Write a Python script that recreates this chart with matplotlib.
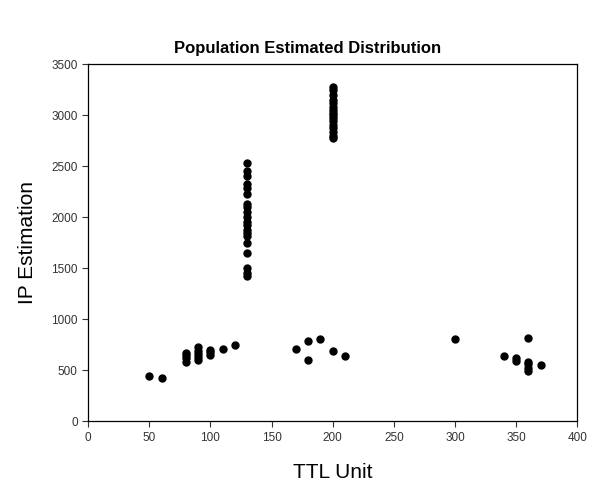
import matplotlib
matplotlib.use("Agg")
import matplotlib.pyplot as plt

plt.rcParams['font.family'] = ['Liberation Sans', 'DejaVu Sans']

# column at TTL 130
col130_y = [2530, 2450, 2400, 2330, 2290, 2230, 2130, 2100, 2050, 2000,
            1950, 1920, 1870, 1850, 1820, 1750, 1650, 1500, 1450, 1420]
# column at TTL 200
col200_y = [3280, 3250, 3200, 3150, 3120, 3080, 3050, 3020, 3000, 2970,
            2940, 2900, 2870, 2840, 2800, 2780]
# the low points
low_x = [50, 60, 80, 80, 80, 80, 90, 90, 90, 90, 90, 100, 100, 100, 110, 120,
         170, 180, 180, 190, 200, 210, 300, 340, 350, 350,
         360, 360, 360, 360, 360, 370]
low_y = [440, 420, 580, 620, 650, 670, 600, 630, 660, 690, 730, 650, 680, 700, 710, 750,
         710, 600, 790, 810, 690, 640, 810, 640, 590, 620,
         490, 520, 560, 580, 820, 550]

ttl = [130] * len(col130_y) + [200] * len(col200_y) + low_x
ip = col130_y + col200_y + low_y

fig = plt.figure(figsize=(5.92, 4.83), dpi=100)
ax = fig.add_axes([0.149, 0.128, 0.826, 0.739])
ax.plot(ttl, ip, 'o', color='black', markersize=5, linestyle='none')

ax.set_xlim(0, 400)
ax.set_ylim(0, 3500)
ax.set_xticks(range(0, 401, 50))
ax.set_yticks(range(0, 3501, 500))
ax.tick_params(direction='out', length=4, labelsize=8.5, colors='#333333', width=0.8)
for s in ax.spines.values():
    s.set_linewidth(0.9)
    s.set_color('black')

ax.set_xlabel('TTL Unit', fontsize=15, labelpad=14)
ax.set_ylabel('IP Estimation', fontsize=15, labelpad=10)
fig.suptitle('Population Estimated Distribution', fontsize=12, fontweight='bold', x=0.52, y=0.915)

fig.savefig('out.png', dpi=100)
